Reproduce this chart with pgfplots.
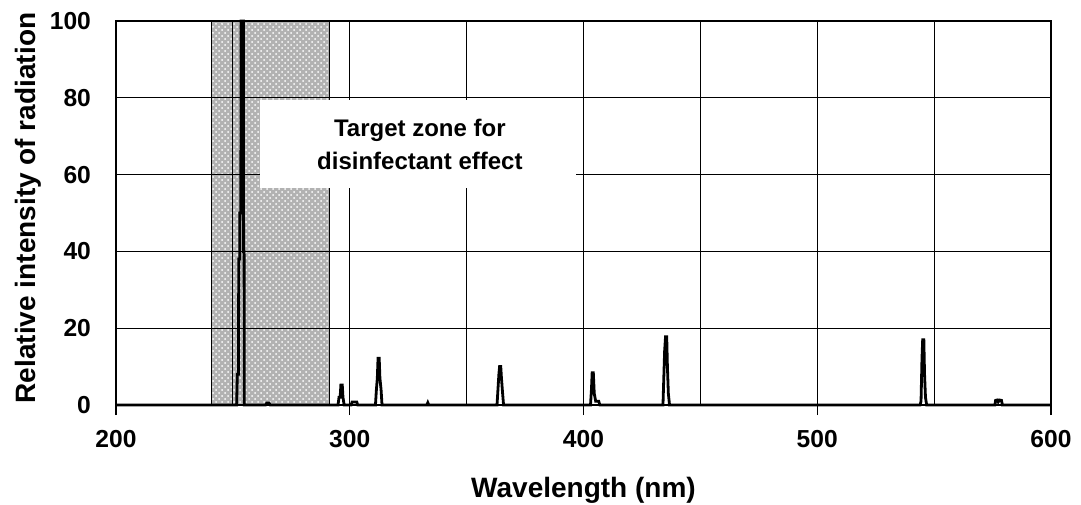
\documentclass[border=0pt]{standalone}
\usepackage{fontspec}
\setmainfont{Liberation Sans}
\usepackage{pgfplots}
\pgfplotsset{compat=1.18}
\usetikzlibrary{patterns}

% Emission spectrum of a low-pressure mercury lamp (relative intensity)
\pgfplotstableread{
x y
200 0
251.6 0
251.9 8
252.4 8
252.5 38
252.9 38
253.0 50
253.4 50
253.5 100
254.5 100
254.6 40
254.8 40
254.9 0
264.0 0
264.5 0.5
265.5 0.5
266.0 0
295.0 0
295.4 2
295.9 2
296.2 5.2
296.8 5.2
297.1 2
297.6 0
300.6 0
301.0 0.8
303.0 0.8
303.4 0
311.0 0
311.4 4
311.8 7
312.1 12.2
312.6 12.2
312.9 7
313.4 4
313.8 0
333.0 0
333.4 0.6
333.8 0
363.0 0
363.4 4
363.8 8
364.1 10
364.6 10
364.9 7
365.4 3
365.8 0
403.0 0
403.4 4
403.7 8.4
404.2 8.4
404.6 3
405.2 1
406.5 1
407.0 0
434.0 0
434.3 6
434.7 14
435.1 17.8
435.6 17.8
435.9 10
436.3 3
436.8 0
544.0 0
544.4 1
544.8 12
545.1 17
545.6 17
545.9 8
546.3 2
546.8 0
576.0 0
576.3 1.2
577.0 1.3
577.4 0.8
578.0 1.3
578.8 1.2
579.2 0
600 0
}\spectrum

\begin{document}
\begin{tikzpicture}
\begin{axis}[
  name=ax,
  set layers,
  scale only axis,
  width=467.5pt, height=192pt,
  xmin=200, xmax=600, ymin=0, ymax=100,
  xtick={200,300,...,600},
  minor xtick={250,350,...,550},
  ytick={0,20,...,100},
  grid=both,
  major grid style={black, line width=0.65pt},
  minor grid style={black, line width=0.6pt},
  axis line style={black, line width=0.9pt},
  tick pos=left,
  tick align=outside,
  major tick length=5pt,
  minor tick length=0pt,
  xtick style={black, line width=0.7pt},
  minor tick style={draw=none},
  ytick style={draw=none},
  /pgf/number format/assume math mode=true,
  tick label style={font=\fontsize{12.3}{14}\selectfont\bfseries},
  xticklabel style={yshift=-4pt},
  yticklabel style={xshift=-4pt},
  xlabel={Wavelength (nm)},
  ylabel={Relative intensity of radiation},
  label style={font=\fontsize{14}{16}\selectfont\bfseries},
  xlabel style={at={(axis description cs:0.5,-0.2214)}, anchor=center},
  ylabel style={at={(axis description cs:-0.094,0.513)}, anchor=center},
  clip=false,
]
% target zone for the germicidal effect
\addplot[on layer=axis background, fill=gray!60, draw=black, line width=0.6pt,
  postaction={pattern=crosshatch dots, pattern color=white}]
  coordinates {(241,0) (241,100) (291.5,100) (291.5,0)} \closedcycle;

% spectrum
\addplot[black, line width=1.4pt, line join=miter] table {\spectrum};

% label box
\fill[white] (axis cs:261.6,56.5) rectangle (axis cs:397,79.4);
\node[align=center, font=\fontsize{12}{16.5}\selectfont\bfseries]
  at (axis cs:330,67.8) {Target zone for\\disinfectant effect};
\end{axis}
\pgfresetboundingbox
\path ([shift={(-58pt,-49.5pt)}]ax.south west) rectangle ([shift={(15pt,10.5pt)}]ax.north east);
\end{tikzpicture}
\end{document}
